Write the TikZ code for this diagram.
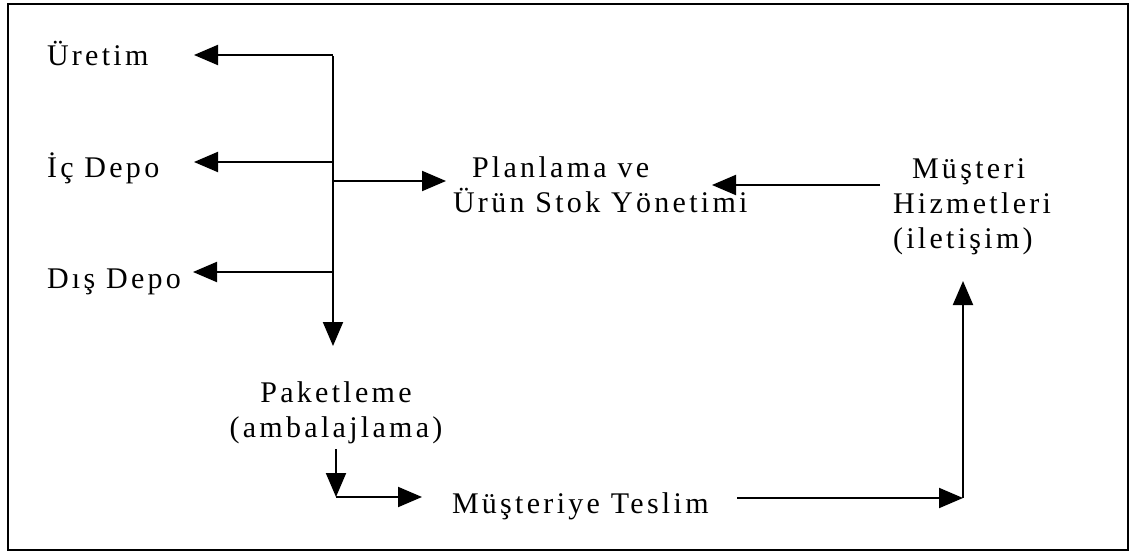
\documentclass[tikz,border=0pt]{standalone}
\usepackage{fontspec}
\setmainfont{Liberation Serif}[LetterSpace=11]
\usetikzlibrary{arrows.meta}
\tikzset{
  lbl/.style={inner sep=0pt, outer sep=0pt, font=\fontsize{30}{35}\selectfont},
  conn/.style={line width=2pt, -{Triangle[length=24pt,width=20pt]}},
  frame/.style={line width=2.7pt}
}
\begin{document}
\begin{tikzpicture}[x=1pt,y=-1pt]
\useasboundingbox (0,0) rectangle (1131,553);
\draw[frame] (8,4) rectangle (1128,550);

% text nodes
\node[lbl, anchor=base west] (uretim) at (47,66) {Üretim};
\node[lbl, anchor=base west] (icdepo) at (47,178) {İç Depo};
\node[lbl, anchor=base west] (disdepo) at (47,288) {Dış Depo};
\node[lbl, anchor=base west] (plan) at (453,178)
  {\begin{tabular}[t]{@{}l@{}}\hspace*{19pt}Planlama ve\\Ürün Stok Yönetimi\end{tabular}};
\node[lbl, anchor=base west] (hizmet) at (893,179)
  {\begin{tabular}[t]{@{}l@{}}\hspace*{19pt}Müşteri\\Hizmetleri\\(iletişim)\end{tabular}};
\node[lbl, anchor=base] (paket) at (336,402)
  {\begin{tabular}[t]{@{}c@{}}Paketleme\\(ambalajlama)\end{tabular}};
\node[lbl, anchor=base west] (teslim) at (452,513) {Müşteriye Teslim};

% connector points
\coordinate (jU) at (333,55);
\coordinate (tU) at (194,55);
\coordinate (jI) at (333,162);
\coordinate (tI) at (194,162);
\coordinate (jP) at (333,181);
\coordinate (tP) at (446,181);
\coordinate (jD) at (333,272);
\coordinate (tD) at (193,272);
\coordinate (tK) at (333,346);
\coordinate (k1) at (336,449);
\coordinate (k2) at (336,497);
\coordinate (tM) at (422,497);
\coordinate (m1) at (737,498);
\coordinate (m2) at (963,498);
\coordinate (tH) at (963,281);
\coordinate (h1) at (880,185);
\coordinate (tS) at (712,185);

% connectors
\draw[conn] ([yshift=-1pt]jU) -- (tK);
\draw[conn] (jU) -- (tU);
\draw[conn] (jI) -- (tI);
\draw[conn] (jP) -- (tP);
\draw[conn] (jD) -- (tD);
\draw[conn] (k1) -- (k2);
\draw[conn] (k2) -- (tM);
\draw[conn] (m1) -- (m2);
\draw[conn] (m2) -- (tH);
\draw[conn] (h1) -- (tS);
\end{tikzpicture}
\end{document}
